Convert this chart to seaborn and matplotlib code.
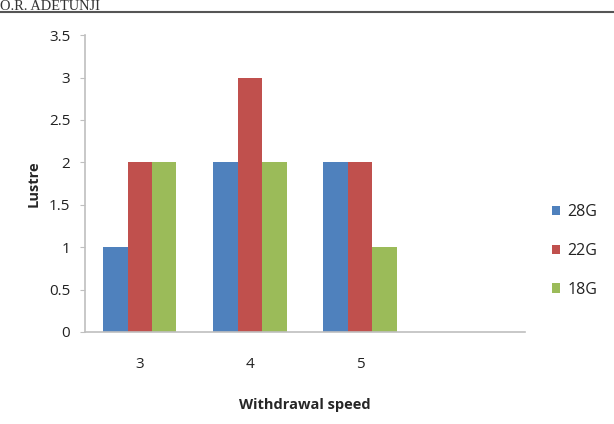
import matplotlib
matplotlib.use("Agg")
import matplotlib.pyplot as plt
import seaborn as sns
import pandas as pd

# values
speeds = ["3", "4", "5"]
gauges = ["28G", "22G", "18G"]
lustre_28g = [1, 2, 2]
lustre_22g = [2, 3, 2]
lustre_18g = [2, 2, 1]
colors = ["#4F81BD", "#C0504D", "#9BBB59"]

df = pd.DataFrame({
    "speed": speeds * 3,
    "gauge": [g for g in gauges for _ in speeds],
    "lustre": lustre_28g + lustre_22g + lustre_18g,
})

sns.set_style("white")
plt.rcParams["font.family"] = ["Open Sans", "DejaVu Sans"]

fig = plt.figure(figsize=(6.14, 4.24), dpi=100)
ax = fig.add_axes([0.138, 0.217, 0.717, 0.700])

sns.barplot(data=df, x="speed", y="lustre", hue="gauge", order=speeds,
            hue_order=gauges, palette=colors, width=0.667, saturation=1,
            errorbar=None, linewidth=0, ax=ax)

# Excel-style axis with an empty fourth category slot
ax.set_xlim(-0.5, 3.5)
ax.set_ylim(0, 3.5)
ax.set_yticks([0, 0.5, 1, 1.5, 2, 2.5, 3, 3.5])
ax.set_yticklabels(["0", "0.5", "1", "1.5", "2", "2.5", "3", "3.5"])
ax.tick_params(axis="y", length=3.5, width=0.8, color="#BFBFBF", labelsize=11,
               labelcolor="#222222", pad=7, left=True)
ax.tick_params(axis="x", length=0, labelsize=11, labelcolor="#222222", pad=18)

for side in ["top", "right"]:
    ax.spines[side].set_visible(False)
for side in ["left", "bottom"]:
    ax.spines[side].set_color("#BFBFBF")
    ax.spines[side].set_linewidth(1.2)

ax.set_xlabel("Withdrawal speed", fontsize=10.5, fontweight="bold", labelpad=19)
ax.set_ylabel("Lustre", fontsize=10.5, fontweight="bold", labelpad=6)

handles, labels = ax.get_legend_handles_labels()
ax.legend(handles, labels, loc="center left", bbox_to_anchor=(0.875, 0.408),
          bbox_transform=fig.transFigure, frameon=False, fontsize=11.5,
          handlelength=0.55, handleheight=0.55, handletextpad=0.45,
          labelspacing=1.42, labelcolor="#222222")

# page header from the source document
fig.text(0.0, 0.976, "O.R. ADETUNJI", fontsize=10.4, family="Liberation Serif",
         va="baseline", ha="left", color="#333333")
fig.add_artist(plt.Line2D([0, 1], [0.971, 0.971], transform=fig.transFigure,
                          color="#555555", linewidth=1.5))

fig.savefig("out.png", dpi=100)
